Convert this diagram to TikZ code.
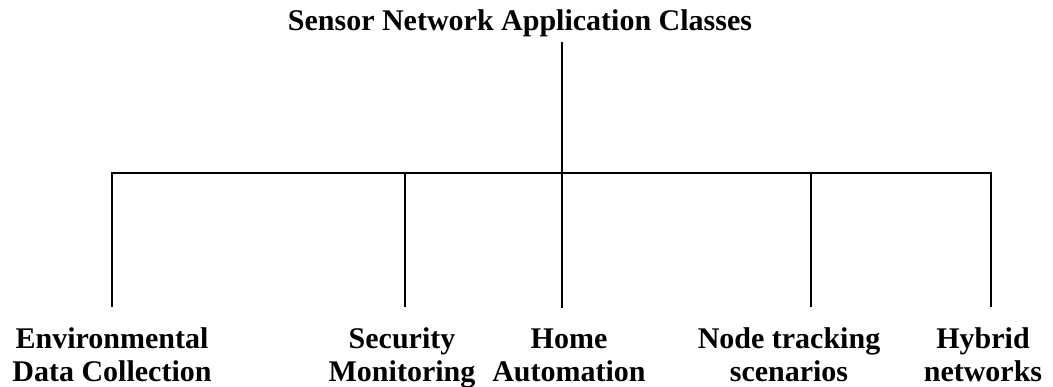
\documentclass[tikz,border=0pt]{standalone}
\usepackage{fontspec}
\setmainfont{Liberation Serif}
\begin{document}
\begin{tikzpicture}[x=1pt,y=-1pt,
  lbl/.style={font=\fontsize{30}{33}\selectfont\bfseries, align=center, inner sep=0pt, outer xsep=0pt, outer ysep=20pt, anchor=base},
  ttl/.style={font=\fontsize{30}{33}\selectfont\bfseries, inner sep=0pt, outer ysep=5.5pt, anchor=base},
  conn/.style={draw=black, line width=1.6pt}]
\useasboundingbox (0,0) rectangle (1053,386);
\node[ttl] (t) at (520,30) {Sensor Network Application Classes};
\coordinate (hub) at (562,173);
\coordinate (j1) at (112,173);
\coordinate (j2) at (405,173);
\coordinate (j3) at (562,173);
\coordinate (j4) at (811,173);
\coordinate (j5) at (991,173);
\node[lbl] (c1) at (112,381) {Environmental\\Data Collection};
\node[lbl] (c2) at (402,381) {Security\\Monitoring};
\node[lbl] (c3) at (569,381) {Home\\Automation};
\node[lbl] (c4) at (789,381) {Node tracking\\scenarios};
\node[lbl] (c5) at (983,381) {Hybrid\\networks};
\draw[conn] (hub |- t.south) -- (hub);
\draw[conn, line cap=rect] (j1) -- (j5);
\draw[conn] (j1) -- (j1 |- c1.north);
\draw[conn] (j2) -- (j2 |- c2.north);
\draw[conn] (j3) -- (j3 |- c3.north);
\draw[conn] (j4) -- (j4 |- c4.north);
\draw[conn] (j5) -- (j5 |- c5.north);
\end{tikzpicture}
\end{document}
